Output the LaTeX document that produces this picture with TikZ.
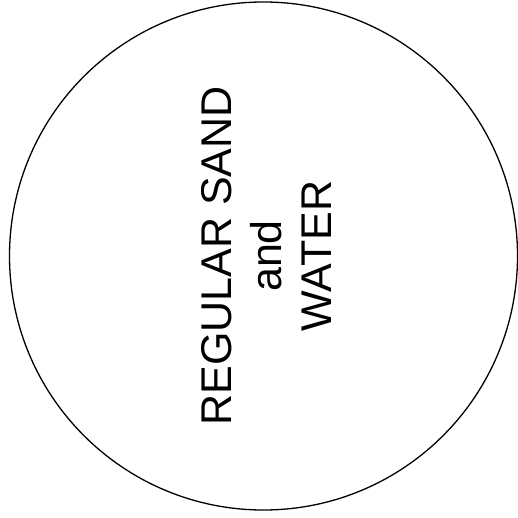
\documentclass[tikz,border=0pt]{standalone}
\usepackage{fontspec}
\setmainfont{Liberation Sans}
\begin{document}
\begin{tikzpicture}[x=1pt,y=1pt]
\tikzset{bowl/.style={draw,line width=1.3pt},
label/.style={rotate=90,align=center,font=\fontsize{43}{50}\selectfont}}
\useasboundingbox (0,0) rectangle (518,517);

\coordinate (O) at (263.5,261);
\draw[bowl] (O) circle (254);

\node[label] (mix) at (266,261) {REGULAR SAND\\and\\WATER};

\end{tikzpicture}
\end{document}
